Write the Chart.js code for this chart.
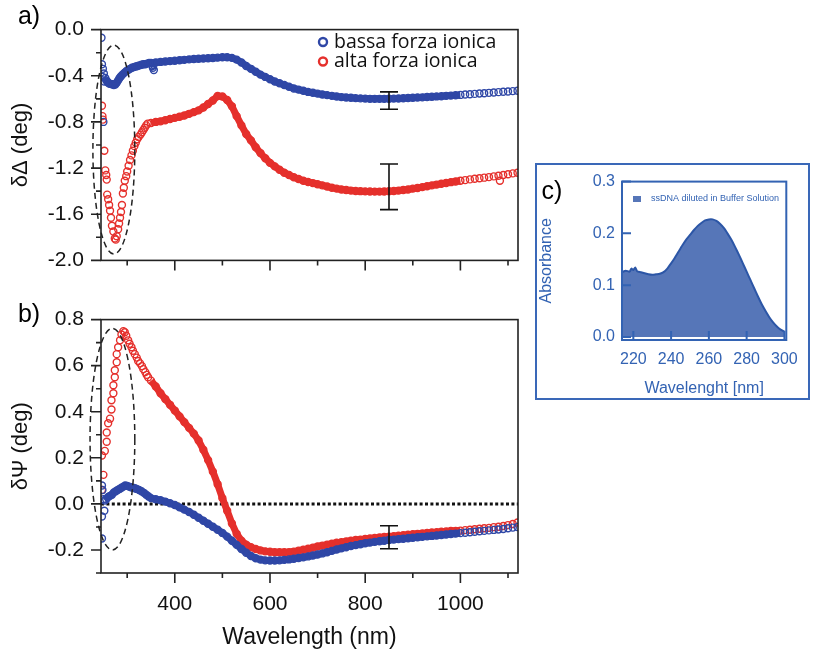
<!DOCTYPE html>
<html>
<head>
<meta charset="utf-8">
<script src="https://cdn.jsdelivr.net/npm/chart.js@4.4.0/dist/chart.umd.min.js"></script>
<style>
  html, body { margin: 0; padding: 0; background: #fff; }
  body { width: 813px; height: 651px; position: relative; overflow: hidden; }
  #boxA { position: absolute; left: 0; top: 0; }
  #boxB { position: absolute; left: 0; top: 290px; }
  #boxC { position: absolute; left: 535px; top: 163px; width: 271px; height: 233px; border: 2px solid #3a68b8; }
  canvas { display: block; }
</style>
</head>
<body>
<div id="boxA"><canvas id="chartA" width="530" height="290"></canvas></div>
<div id="boxB"><canvas id="chartB" width="530" height="361"></canvas></div>
<div id="boxC"><canvas id="chartC" width="271" height="233"></canvas></div>
<script>
// main wavelength grid (nm) shared by all four ellipsometry series
const wavelength = [
  350, 360, 370, 380, 390, 400, 410, 420, 430, 440,
  450, 460, 470, 480, 490, 500, 510, 520, 530, 540,
  550, 560, 570, 580, 590, 600, 610, 620, 630, 640,
  650, 660, 670, 680, 690, 700, 710, 720, 730, 740,
  750, 760, 770, 780, 790, 800, 810, 820, 830, 840,
  850, 860, 870, 880, 890, 900, 910, 920, 930, 940,
  950, 960, 970, 980, 990, 1000, 1010, 1020, 1030, 1040,
  1050, 1060, 1070, 1080, 1090, 1100, 1110, 1120
];

// panel a) delta Delta, low ionic strength
const bassaDeltaEarlyWl = [354, 356, 246, 247, 248, 249, 250, 251, 252, 254, 256, 258, 260, 263, 266, 269, 272, 275, 278, 281, 284, 287,
  290, 294, 298, 302, 306, 310, 314, 318, 322, 326, 330, 334, 338, 342, 346];
const bassaDeltaEarly = [-0.33, -0.35, -0.07, -0.30, -0.41, -0.34, -0.80, -0.38, -0.45, -0.42, -0.44, -0.45, -0.46, -0.47, -0.47, -0.475, -0.48, -0.475, -0.46, -0.44, -0.42, -0.405,
  -0.39, -0.375, -0.36, -0.35, -0.34, -0.33, -0.325, -0.32, -0.315, -0.31, -0.305, -0.30, -0.30, -0.295, -0.29];
const bassaDelta = [
  -0.29, -0.285, -0.28, -0.277, -0.273, -0.27, -0.265, -0.262, -0.258, -0.255,
  -0.252, -0.25, -0.248, -0.246, -0.243, -0.24, -0.24, -0.245, -0.26, -0.285,
  -0.315, -0.34, -0.365, -0.39, -0.41, -0.43, -0.45, -0.465, -0.48, -0.495,
  -0.51, -0.52, -0.53, -0.54, -0.547, -0.555, -0.562, -0.568, -0.574, -0.58,
  -0.585, -0.588, -0.591, -0.594, -0.596, -0.598, -0.6, -0.6, -0.6, -0.6,
  -0.599, -0.598, -0.597, -0.595, -0.593, -0.591, -0.589, -0.587, -0.584, -0.582,
  -0.579, -0.577, -0.574, -0.572, -0.569, -0.566, -0.563, -0.56, -0.557, -0.554,
  -0.551, -0.548, -0.545, -0.542, -0.539, -0.536, -0.533, -0.53
];

// panel a) delta Delta, high ionic strength
const altaDeltaEarlyWl = [1083, 247, 248, 249, 252, 254, 256, 257, 258, 260, 262, 264, 266, 268, 271, 274, 276, 278, 281, 283, 285,
  287, 289, 291, 293, 295, 298, 300, 303, 306, 309, 312, 315, 318, 321, 324, 328, 331, 334, 337, 340, 343];
const altaDeltaEarly = [-1.31, -0.66, -0.75, -0.78, -1.05, -1.22, -1.26, -1.30, -1.43, -1.47, -1.52, -1.57, -1.63, -1.70, -1.75, -1.81, -1.82, -1.79, -1.73, -1.68, -1.63,
  -1.58, -1.52, -1.42, -1.37, -1.31, -1.27, -1.23, -1.18, -1.13, -1.09, -1.05, -1.01, -0.98, -0.95, -0.93, -0.91, -0.89, -0.87, -0.85, -0.83, -0.815];
const altaDelta = [
  -0.81, -0.80, -0.795, -0.785, -0.775, -0.765, -0.755, -0.745, -0.73, -0.715,
  -0.70, -0.675, -0.645, -0.615, -0.575, -0.58, -0.61, -0.665, -0.75, -0.83,
  -0.905, -0.96, -1.02, -1.07, -1.115, -1.155, -1.185, -1.215, -1.24, -1.26,
  -1.28, -1.295, -1.31, -1.32, -1.33, -1.34, -1.35, -1.36, -1.37, -1.378,
  -1.385, -1.39, -1.395, -1.398, -1.40, -1.402, -1.403, -1.404, -1.404, -1.403,
  -1.40, -1.398, -1.395, -1.39, -1.385, -1.378, -1.372, -1.365, -1.358, -1.35,
  -1.343, -1.336, -1.329, -1.322, -1.316, -1.31, -1.304, -1.298, -1.293, -1.288,
  -1.283, -1.278, -1.272, -1.266, -1.26, -1.253, -1.246, -1.24
];

// panel b) delta Psi, low ionic strength
const bassaPsiEarlyWl = [247, 248, 247, 252, 247, 250, 253, 256, 260, 264, 268, 272, 276, 280, 284, 288, 292, 296, 300, 304,
  308, 312, 316, 320, 325, 330, 335, 340, 345];
const bassaPsiEarly = [0.08, 0.06, -0.055, -0.03, -0.15, 0.02, 0.015, 0.02, 0.03, 0.035, 0.04, 0.05, 0.055, 0.06, 0.065, 0.07, 0.075, 0.08, 0.078, 0.075,
  0.072, 0.07, 0.068, 0.065, 0.06, 0.055, 0.048, 0.04, 0.032];
const bassaPsi = [
  0.025, 0.02, 0.016, 0.01, 0.003, -0.005, -0.015, -0.025, -0.035, -0.047,
  -0.06, -0.073, -0.086, -0.099, -0.112, -0.126, -0.142, -0.16, -0.178, -0.196,
  -0.212, -0.226, -0.236, -0.242, -0.245, -0.246, -0.246, -0.245, -0.243, -0.241,
  -0.238, -0.235, -0.232, -0.228, -0.224, -0.22, -0.215, -0.21, -0.204, -0.198,
  -0.193, -0.188, -0.183, -0.179, -0.175, -0.171, -0.168, -0.165, -0.162, -0.16,
  -0.157, -0.155, -0.153, -0.151, -0.149, -0.147, -0.145, -0.143, -0.141, -0.139,
  -0.137, -0.135, -0.133, -0.131, -0.129, -0.127, -0.125, -0.123, -0.121, -0.119,
  -0.117, -0.115, -0.113, -0.111, -0.109, -0.106, -0.103, -0.10
];

// panel b) delta Psi, high ionic strength
const altaPsiEarlyWl = [247, 250, 247, 253, 257, 257, 260, 264, 267, 267, 271, 271, 274, 274, 278, 278, 281, 285, 288, 292,
  295, 298, 302, 305, 309, 312, 316, 320, 323, 327, 331, 334, 338, 341, 344];
const altaPsiEarly = [0.21, 0.126, 0.06, 0.23, 0.27, 0.31, 0.35, 0.37, 0.41, 0.45, 0.48, 0.515, 0.55, 0.58, 0.615, 0.65, 0.68, 0.71, 0.735, 0.75,
  0.745, 0.73, 0.71, 0.695, 0.68, 0.665, 0.65, 0.635, 0.62, 0.61, 0.598, 0.585, 0.572, 0.56, 0.55];
const altaPsi = [
  0.535, 0.51, 0.48, 0.455, 0.43, 0.405, 0.38, 0.355, 0.33, 0.305,
  0.275, 0.235, 0.19, 0.14, 0.085, 0.025, -0.03, -0.085, -0.13, -0.16,
  -0.177, -0.188, -0.196, -0.202, -0.206, -0.208, -0.21, -0.21, -0.21, -0.21,
  -0.207, -0.203, -0.199, -0.195, -0.19, -0.185, -0.181, -0.177, -0.173, -0.169,
  -0.166, -0.163, -0.16, -0.157, -0.155, -0.152, -0.15, -0.148, -0.146, -0.144,
  -0.142, -0.14, -0.138, -0.136, -0.134, -0.132, -0.13, -0.128, -0.126, -0.124,
  -0.123, -0.121, -0.12, -0.118, -0.117, -0.116, -0.114, -0.112, -0.11, -0.108,
  -0.106, -0.104, -0.101, -0.099, -0.096, -0.092, -0.087, -0.081
];

// error bars at 850 nm
const errDelta = [{ x: 850, lo: -0.69, hi: -0.54 }, { x: 850, lo: -1.56, hi: -1.165 }];
const errPsi = [{ x: 850, lo: -0.195, hi: -0.095 }];

// tick values
const wlTicks = [400, 600, 800, 1000];
const wlMinor = [300, 500, 700, 900, 1100];
const deltaTicks = [-2.0, -1.6, -1.2, -0.8, -0.4, 0.0];
const deltaMinor = [-1.8, -1.4, -1.0, -0.6, -0.2];
const psiTicks = [-0.2, 0.0, 0.2, 0.4, 0.6, 0.8];
const psiMinor = [-0.3, -0.1, 0.1, 0.3, 0.5, 0.7];

// panel c) UV absorbance of ssDNA
const uvWl = [214, 216, 218, 219, 220, 221, 222, 224, 226, 228, 230, 232, 234, 236, 238, 240, 242, 244, 246, 248,
  250, 252, 254, 256, 258, 260, 262, 264, 266, 268, 270, 272, 274, 276, 278, 280, 282, 284, 286, 288,
  290, 292, 294, 296, 298, 300];
const uvAbs = [0.125, 0.128, 0.126, 0.132, 0.129, 0.134, 0.127, 0.125, 0.123, 0.121, 0.120, 0.121, 0.122, 0.125, 0.132, 0.142, 0.153, 0.165, 0.177, 0.188,
  0.197, 0.206, 0.214, 0.220, 0.225, 0.227, 0.227, 0.224, 0.218, 0.210, 0.199, 0.187, 0.173, 0.158, 0.142, 0.126, 0.110, 0.094, 0.078, 0.063,
  0.050, 0.038, 0.028, 0.020, 0.014, 0.010];
const uvTicksX = [220, 240, 260, 280, 300];
const uvTicksY = [0.0, 0.1, 0.2, 0.3];

const BLUE = "#2f47a6";
const RED = "#e5302c";
const UVBLUE = "#3363b3";

Chart.defaults.font.family = "'Liberation Sans', Arial, sans-serif";
Chart.defaults.color = "#111";

function toPoints(xs, ys) {
    return xs.map((x, i) => ({ x: x, y: ys[i] }));
}

// thick band only where the measurement is dense, loose circles elsewhere
function bandSegment(from) {
    return {
        borderColor: c => {
            const d = c.chart.data.datasets[c.datasetIndex].data;
            const a = d[c.p0DataIndex], b = d[c.p1DataIndex];
            return (a.x >= from && b.x > a.x && b.x <= 1000) ? undefined : "transparent";
        }
    };
}

function series(label, color, early, main, from) {
    return {
        label: label,
        data: early.concat(main),
        showLine: true,
        borderColor: color,
        borderWidth: 7,
        segment: bandSegment(from),
        pointRadius: 3.5,
        pointBorderWidth: 1.4,
        pointBorderColor: color,
        pointBackgroundColor: "transparent"
    };
}

const panelPlugin = {
    id: "panel",
    beforeDatasetsDraw(chart, args, o) {
        if (!o.zeroLine) return;
        const ctx = chart.ctx, a = chart.chartArea;
        const py = chart.scales.y.getPixelForValue(0);
        ctx.save();
        ctx.strokeStyle = "#111";
        ctx.lineWidth = 3;
        ctx.setLineDash([3, 2.4]);
        ctx.beginPath();
        ctx.moveTo(a.left, py);
        ctx.lineTo(a.right, py);
        ctx.stroke();
        ctx.restore();
    },
    afterDatasetsDraw(chart, args, o) {
        const ctx = chart.ctx, xs = chart.scales.x, ys = chart.scales.y;
        ctx.save();
        if (o.ellipse) {
            const e = o.ellipse;
            const cx = xs.getPixelForValue(e.cx), cy = ys.getPixelForValue(e.cy);
            const rx = Math.abs(xs.getPixelForValue(e.cx + e.rx) - cx);
            const ry = Math.abs(ys.getPixelForValue(e.cy + e.ry) - cy);
            ctx.strokeStyle = "#222";
            ctx.lineWidth = 1.5;
            ctx.setLineDash([6, 4]);
            ctx.beginPath();
            ctx.ellipse(cx, cy, rx, ry, 0, 0, Math.PI * 2);
            ctx.stroke();
            ctx.setLineDash([]);
        }
        (o.errorBars || []).forEach(eb => {
            const px = xs.getPixelForValue(eb.x);
            const p1 = ys.getPixelForValue(eb.lo), p2 = ys.getPixelForValue(eb.hi);
            ctx.strokeStyle = "#111";
            ctx.lineWidth = 1.6;
            ctx.beginPath();
            ctx.moveTo(px, p1); ctx.lineTo(px, p2);
            ctx.moveTo(px - 9, p1); ctx.lineTo(px + 9, p1);
            ctx.moveTo(px - 9, p2); ctx.lineTo(px + 9, p2);
            ctx.stroke();
        });
        ctx.restore();
    },
    afterDraw(chart, args, o) {
        const ctx = chart.ctx, a = chart.chartArea, xs = chart.scales.x, ys = chart.scales.y;
        const dir = o.inward ? -1 : 1;
        ctx.save();
        ctx.strokeStyle = o.color;
        ctx.lineWidth = o.lineWidth;
        ctx.strokeRect(a.left, a.top, a.right - a.left, a.bottom - a.top);
        ctx.beginPath();
        const tick = (vals, len, isX) => vals.forEach(v => {
            if (isX) {
                const p = xs.getPixelForValue(v);
                ctx.moveTo(p, a.bottom); ctx.lineTo(p, a.bottom + dir * len);
            } else {
                const p = ys.getPixelForValue(v);
                ctx.moveTo(a.left, p); ctx.lineTo(a.left - dir * len, p);
            }
        });
        tick(o.xMajor || [], o.majorLen, true);
        tick(o.xMinor || [], o.minorLen, true);
        tick(o.yMajor || [], o.majorLen, false);
        tick(o.yMinor || [], o.minorLen, false);
        ctx.stroke();

        if (o.legend) {
            const L = o.legend;
            ctx.font = L.font;
            ctx.textBaseline = "middle";
            ctx.textAlign = "left";
            chart.data.datasets.forEach((ds, i) => {
                const cy = L.y + i * L.dy;
                ctx.fillStyle = L.textColor || "#111";
                if (L.box) {
                    ctx.fillStyle = ds.backgroundColor;
                    ctx.fillRect(L.x - 4, cy - 3, 8, 6);
                    ctx.fillStyle = L.textColor;
                } else {
                    ctx.beginPath();
                    ctx.arc(L.x, cy, 4, 0, Math.PI * 2);
                    ctx.strokeStyle = ds.borderColor;
                    ctx.lineWidth = 2.4;
                    ctx.stroke();
                    ctx.fillStyle = "#111";
                }
                ctx.fillText(ds.label, L.x + L.gap, cy);
            });
        }
        if (o.tag) {
            ctx.font = "25px 'Liberation Sans', Arial, sans-serif";
            ctx.fillStyle = "#000";
            ctx.textAlign = "center";
            ctx.textBaseline = "middle";
            ctx.fillText(o.tag.text, o.tag.x, o.tag.y);
        }
        ctx.restore();
    }
};

function fixedTicks(list) {
    return scale => { scale.ticks = list.map(v => ({ value: v })); };
}

function wlAxis(showLabels, height) {
    return {
        type: "linear",
        min: 245,
        max: 1121,
        afterBuildTicks: fixedTicks(wlTicks),
        grid: { display: false, drawTicks: false },
        border: { display: false },
        ticks: { display: showLabels, font: { size: 21 }, color: "#111", padding: 19, callback: v => String(v) },
        title: { display: showLabels, text: "Wavelength (nm)", font: { size: 23 }, color: "#111", padding: { top: 0, bottom: 0 } },
        afterFit: s => { s.height = height; }
    };
}

function valueAxis(min, max, ticks, title) {
    return {
        type: "linear",
        min: min,
        max: max,
        afterBuildTicks: fixedTicks(ticks),
        grid: { display: false, drawTicks: false },
        border: { display: false },
        ticks: { font: { size: 21 }, color: "#111", padding: 17, callback: v => Number(v).toFixed(1) },
        title: { display: true, text: title, font: { size: 22 }, color: "#111", padding: { top: 8, bottom: 0 } },
        afterFit: s => { s.width = 101; }
    };
}

const baseOptions = {
    responsive: false,
    animation: false,
    devicePixelRatio: 1,
    plugins: { legend: { display: false }, tooltip: { enabled: false } }
};

// panel a
new Chart(document.getElementById("chartA"), {
    type: "scatter",
    data: {
        datasets: [
            series("bassa forza ionica", BLUE, toPoints(bassaDeltaEarlyWl, bassaDeltaEarly), toPoints(wavelength, bassaDelta), 253),
            series("alta forza ionica", RED, toPoints(altaDeltaEarlyWl, altaDeltaEarly), toPoints(wavelength, altaDelta), 345)
        ]
    },
    options: {
        ...baseOptions,
        layout: { padding: { left: 0, right: 12, top: 15, bottom: 0 } },
        scales: {
            x: wlAxis(false, 25),
            y: valueAxis(-2, 0, deltaTicks, "δΔ (deg)")
        },
        plugins: {
            ...baseOptions.plugins,
            panel: {
                color: "#222", lineWidth: 1.6, majorLen: 10, minorLen: 5,
                xMajor: wlTicks, xMinor: wlMinor, yMajor: deltaTicks, yMinor: deltaMinor,
                ellipse: { cx: 272, cy: -1.04, rx: 44, ry: 0.905 },
                errorBars: errDelta,
                legend: { x: 323, y: 42, dy: 19.5, gap: 11, font: "19.5px 'Open Sans', sans-serif" },
                tag: { text: "a)", x: 29, y: 17 }
            }
        }
    },
    plugins: [panelPlugin]
});

// panel b
new Chart(document.getElementById("chartB"), {
    type: "scatter",
    data: {
        datasets: [
            series("bassa forza ionica", BLUE, toPoints(bassaPsiEarlyWl, bassaPsiEarly), toPoints(wavelength, bassaPsi), 253),
            series("alta forza ionica", RED, toPoints(altaPsiEarlyWl, altaPsiEarly), toPoints(wavelength, altaPsi), 350)
        ]
    },
    options: {
        ...baseOptions,
        layout: { padding: { left: 0, right: 12, top: 23, bottom: 0 } },
        scales: {
            x: wlAxis(true, 78),
            y: valueAxis(-0.3, 0.8, psiTicks, "δΨ (deg)")
        },
        plugins: {
            ...baseOptions.plugins,
            panel: {
                color: "#222", lineWidth: 1.6, majorLen: 10, minorLen: 5,
                xMajor: wlTicks, xMinor: wlMinor, yMajor: psiTicks, yMinor: psiMinor,
                zeroLine: true,
                ellipse: { cx: 269, cy: 0.281, rx: 47, ry: 0.481 },
                errorBars: errPsi,
                tag: { text: "b)", x: 29, y: 25 }
            }
        }
    },
    plugins: [panelPlugin]
});

// panel c
new Chart(document.getElementById("chartC"), {
    type: "line",
    data: {
        datasets: [{
            label: "ssDNA diluted in Buffer Solution",
            data: toPoints(uvWl, uvAbs),
            fill: "origin",
            backgroundColor: "#5676b8",
            borderColor: "#2c56a6",
            borderWidth: 2,
            pointRadius: 0,
            tension: 0.2
        }]
    },
    options: {
        ...baseOptions,
        layout: { padding: { left: 0, right: 21, top: 15, bottom: 0 } },
        scales: {
            x: {
                type: "linear", min: 214, max: 301,
                afterBuildTicks: fixedTicks(uvTicksX),
                grid: { display: false, drawTicks: false },
                border: { display: false },
                ticks: { font: { size: 16 }, color: UVBLUE, padding: 10 },
                title: { display: true, text: "Wavelenght [nm]", font: { size: 16 }, color: UVBLUE, padding: { top: 0, bottom: 0 } },
                afterFit: s => { s.height = 58; }
            },
            y: {
                type: "linear", min: -0.006, max: 0.3,
                afterBuildTicks: fixedTicks(uvTicksY),
                grid: { display: false, drawTicks: false },
                border: { display: false },
                ticks: { font: { size: 16 }, color: UVBLUE, padding: 7, callback: v => Number(v).toFixed(1) },
                title: { display: true, text: "Absorbance", font: { size: 16 }, color: UVBLUE, padding: { top: 0, bottom: 0 } },
                afterFit: s => { s.width = 85; }
            }
        },
        plugins: {
            ...baseOptions.plugins,
            panel: {
                color: UVBLUE, lineWidth: 2, majorLen: 9, minorLen: 0, inward: true,
                xMajor: uvTicksX, yMajor: uvTicksY,
                legend: { x: 100, y: 34, dy: 0, gap: 14, box: true, textColor: UVBLUE, font: "9px 'Liberation Sans', Arial, sans-serif" },
                tag: { text: "c)", x: 15, y: 27 }
            }
        }
    },
    plugins: [panelPlugin]
});
</script>
</body>
</html>
